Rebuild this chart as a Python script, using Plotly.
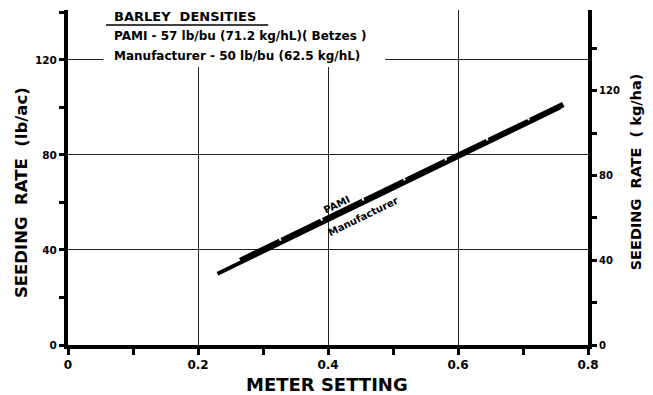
import plotly.graph_objects as go

# Data
meter_mfr = [0.23, 0.757]
rate_mfr = [30.0, 100.0]
meter_pami = [0.265, 0.762]
rate_pami = [35.6, 101.2]

x_ticks = [0, 0.2, 0.4, 0.6, 0.8]
x_ticktext = ["0", "0.2", "0.4", "0.6", "0.8"]
y_ticks = [0, 40, 80, 120]
y2_ticks = [0, 40, 80, 120]
Y_MAX = 141.0
LB_AC_TO_KG_HA = 1.12085

FONT = "DejaVu Sans"

fig = go.Figure()
fig.add_trace(go.Scatter(x=meter_mfr, y=rate_mfr, mode="lines",
                         line=dict(color="black", width=4), showlegend=False,
                         hoverinfo="skip"))
fig.add_trace(go.Scatter(x=meter_pami, y=rate_pami, mode="lines",
                         line=dict(color="black", width=5.5, dash="44px,2px"),
                         showlegend=False, hoverinfo="skip"))
fig.add_trace(go.Scatter(x=[], y=[], yaxis="y2", showlegend=False))

axis_common = dict(showline=True, linecolor="black", linewidth=4, ticks="outside",
                   tickcolor="black", tickwidth=3, zeroline=False)

def tf(size):
    return dict(family=FONT, size=size, color="black", weight="bold")

fig.update_layout(
    width=653, height=395,
    margin=dict(l=68, r=65, t=10, b=50),
    paper_bgcolor="white", plot_bgcolor="white",
    xaxis=dict(range=[0, 0.8], tickvals=x_ticks, ticktext=x_ticktext,
               ticklen=6, showgrid=True, gridcolor="#222", gridwidth=1.2,
               tickfont=tf(12),
               minor=dict(dtick=0.1, ticks="outside", ticklen=6, tickwidth=3,
                          tickcolor="black", showgrid=False),
               **axis_common),
    yaxis=dict(range=[0, Y_MAX], tickvals=y_ticks, ticklen=5,
               showgrid=True, gridcolor="#222", gridwidth=1.2,
               tickfont=tf(10.5),
               minor=dict(dtick=20, ticks="outside", ticklen=5, tickwidth=3,
                          tickcolor="black", showgrid=False),
               **axis_common),
    yaxis2=dict(range=[0, Y_MAX * LB_AC_TO_KG_HA], tickvals=y2_ticks, ticklen=5,
                overlaying="y", side="right", showgrid=False,
                tickfont=tf(10),
                minor=dict(dtick=20, ticks="outside", ticklen=5, tickwidth=3,
                           tickcolor="black", showgrid=False),
                **axis_common),
)

# white block behind the legend text (interrupts the grid)
fig.add_shape(type="rect", xref="paper", yref="paper", x0=0.068, x1=0.61,
              y0=0.83, y1=1.0, fillcolor="white", line=dict(width=0), layer="above")
fig.add_shape(type="line", xref="paper", yref="paper", x0=0.073, x1=0.385,
              y0=0.955, y1=0.955, line=dict(color="black", width=1.5), layer="above")

def ann(text, x, y, size, xanchor="left", xref="paper", yref="paper", angle=0):
    fig.add_annotation(text=text, x=x, y=y, xref=xref, yref=yref,
                       xanchor=xanchor, yanchor="middle", showarrow=False, textangle=angle,
                       font=tf(size))

ann("BARLEY  DENSITIES", 0.0846, 0.981, 13)
ann("PAMI - 57 lb/bu (71.2 kg/hL)( Betzes )", 0.0846, 0.922, 12)
ann("Manufacturer - 50 lb/bu (62.5 kg/hL)", 0.0846, 0.862, 12)

ann("PAMI", 0.414, 59.0, 10, xanchor="center", xref="x", yref="y", angle=-26)
ann("Manufacturer", 0.454, 53.9, 10, xanchor="center", xref="x", yref="y", angle=-26)

ann("SEEDING  RATE  (lb/ac)", -0.0894, 0.455, 16.5, xanchor="center", angle=-90)
ann("SEEDING  RATE  ( kg/ha)", 1.094, 0.518, 14.5, xanchor="center", angle=-90)
ann("METER SETTING", 0.499, -0.119, 18, xanchor="center")

fig.write_html("out.html")
